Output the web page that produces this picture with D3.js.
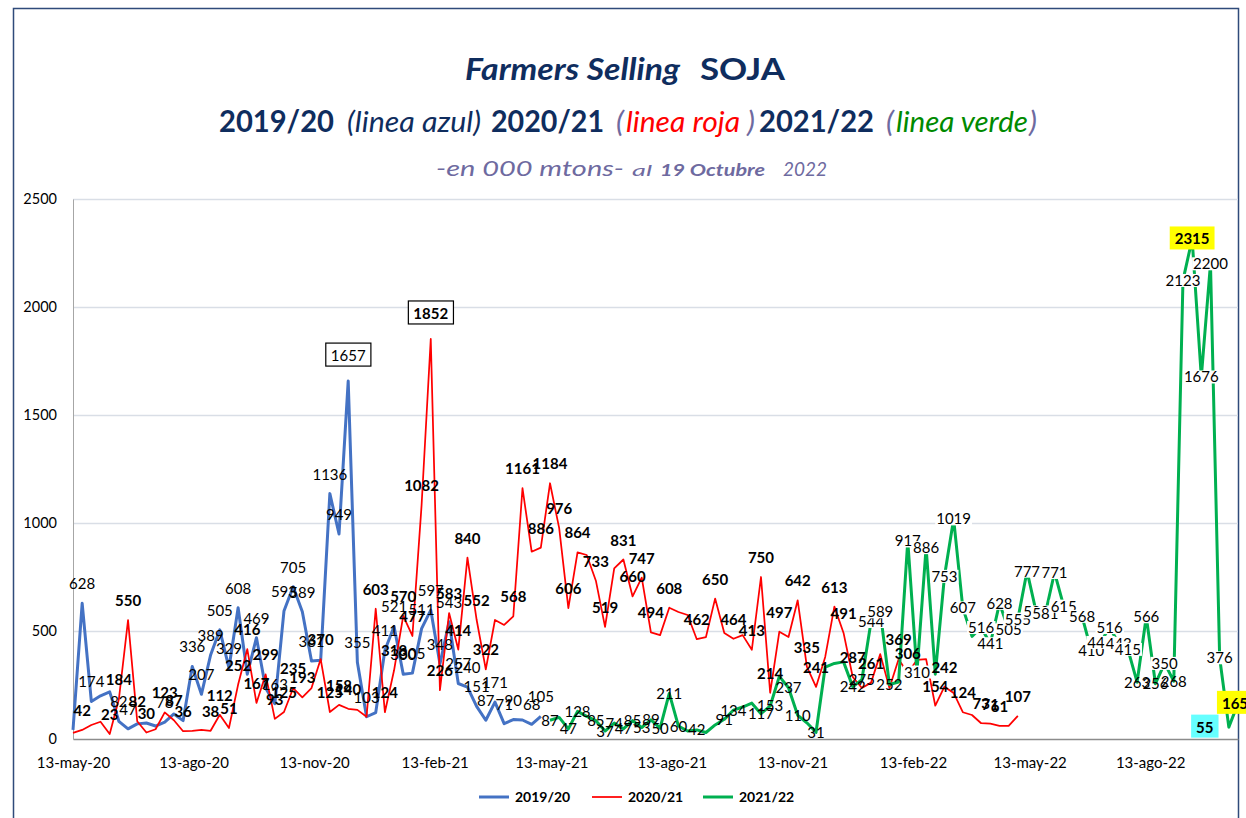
<!DOCTYPE html>
<html><head><meta charset="utf-8">
<script src="https://cdn.jsdelivr.net/npm/d3@7"></script>
<style>body{margin:0;background:#fff}svg{display:block}</style>
</head><body><svg id="c" width="1246" height="818"></svg>
<script>
// ---------- DATA ----------
const startDate = "2020-05-13";
const endDate = "2022-10-19";
const blueStartWeek = 0, redStartWeek = 0, greenStartWeek = 52;
const blueValues = [42,628,174,200,218,82,47,70,74,60,78,116,85,336,207,389,505,329,608,300,469,236,163,593,705,589,361,365,1136,949,1657,355,103,122,411,521,300,305,511,597,348,543,257,240,151,87,171,71,90,88,68,105];
const redValues = [28,42,65,80,23,184,550,82,30,45,123,87,36,38,42,38,112,51,252,416,167,299,93,125,235,193,236,370,125,158,140,135,103,603,124,318,570,477,1082,1852,226,583,414,840,552,322,551,528,568,1161,867,886,1184,976,606,864,852,733,519,790,831,660,747,494,481,608,588,574,462,472,650,491,464,481,413,750,214,497,472,642,335,241,380,613,491,287,236,261,393,236,369,306,366,370,154,242,213,124,111,73,71,61,61,107];
const greenValues = [87,100,47,128,105,85,37,74,47,85,53,89,50,211,60,37,42,30,65,91,134,148,166,117,153,290,237,110,75,31,333,350,357,242,275,544,589,252,264,917,310,886,300,753,1019,607,475,516,441,628,505,555,777,588,581,771,615,597,568,410,447,516,443,415,263,566,256,350,268,2123,2315,1676,2200,376,55,165];
const blueNoLabel = [0,3,4,7,8,9,11,12,19,21,27,33,49];
const redNoLabel = [0,2,3,9,13,14,26,31,32,46,47,50,56,59,64,66,67,69,71,73,78,82,86,88,89,92,93,96,98,102];
const greenNoLabel = [53,56,67,69,70,73,74,77,80,82,83,84,90,94,98,109];
const seriesNames = ["2019/20","2020/21","2021/22"];
const tickDates = ["2020-05-13","2020-08-13","2020-11-13","2021-02-13","2021-05-13","2021-08-13","2021-11-13","2022-02-13","2022-05-13","2022-08-13"];
const tickLabels = ["13-may-20","13-ago-20","13-nov-20","13-feb-21","13-may-21","13-ago-21","13-nov-21","13-feb-22","13-may-22","13-ago-22"];
const yTicks = [0,500,1000,1500,2000,2500];

// ---------- SETUP ----------
const svg = d3.select("#c");
const FONT = "Lato, 'Open Sans', sans-serif";
const parse = d3.timeParse("%Y-%m-%d");
const x = d3.scaleTime().domain([parse(startDate), parse(endDate)]).range([73, 1238]);
const y = d3.scaleLinear().domain([0, 2500]).range([739, 199]);
const weekDate = k => d3.timeDay.offset(parse(startDate), 7 * k);

svg.append("rect").attr("width",1246).attr("height",818).attr("fill","#fff");
svg.append("path").attr("d","M13.5,830 V8.5 H1238.5 V830").attr("fill","none").attr("stroke","#2F4A7A").attr("stroke-width",1.5);

// gridlines
svg.append("g").selectAll("line").data(yTicks.filter(d=>d>0)).join("line")
  .attr("x1",73).attr("x2",1238).attr("y1",d=>Math.round(y(d))+0.5).attr("y2",d=>Math.round(y(d))+0.5)
  .attr("stroke","#D9DEE6").attr("stroke-width",1.5);

// axes
const yAxis = d3.axisLeft(y).tickValues(yTicks).tickSize(0).tickPadding(16).tickFormat(d3.format("d"));
const gy = svg.append("g").attr("transform","translate(73,0)").call(yAxis);
gy.select(".domain").attr("stroke","#A6A6A6");
gy.selectAll("text").attr("font-family",FONT).attr("font-size",14.5).attr("fill","#000");
const xAxis = d3.axisBottom(x).tickValues(tickDates.map(parse)).tickSize(0).tickPadding(18)
  .tickFormat((d,i)=>tickLabels[i]);
const gx = svg.append("g").attr("transform","translate(0,739)").call(xAxis);
gx.select(".domain").attr("stroke","#8C8C8C").attr("stroke-width",1.5);
gx.selectAll("text").attr("font-family",FONT).attr("font-size",15).attr("fill","#000");

// series
const mk = (vals, start) => vals.map((v,i)=>({k:start+i, v, d:weekDate(start+i)}));
const blue = mk(blueValues, blueStartWeek), red = mk(redValues, redStartWeek), green = mk(greenValues, greenStartWeek);
const line = d3.line().defined(p=>p.v!=null).x(p=>x(p.d)).y(p=>y(p.v));
svg.append("path").datum(blue).attr("d",line).attr("fill","none").attr("stroke","#4472C4").attr("stroke-width",3).attr("stroke-linejoin","round");
svg.append("path").datum(red).attr("d",line).attr("fill","none").attr("stroke","#FF0000").attr("stroke-width",1.75).attr("stroke-linejoin","round");
svg.append("path").datum(green).attr("d",line).attr("fill","none").attr("stroke","#00B050").attr("stroke-width",3).attr("stroke-linejoin","round");

// labels
const special = {
  "blue-30": {fill:"#fff", stroke:"#000", bold:false},
  "red-39": {fill:"#fff", stroke:"#000", bold:true},
  "green-122": {fill:"#FFFF00", stroke:null, bold:true},
  "green-126": {fill:"#66FFFF", stroke:null, bold:true, dx:-24},
  "green-127": {fill:"#FFFF00", stroke:null, bold:true, dx:-3}
};
const boxMin = 300;
const gl = svg.append("g");
function addLabels(data, name, noLabel, mode, bold) {
  data.forEach(p=>{
    if (noLabel.includes(p.k)) return;
    const sp = special[name+"-"+p.k];
    const cx = x(p.d) + (sp && sp.dx ? sp.dx : 0);
    const py = y(p.v);
    const base = mode === "above" ? py - 14 : py + 5.5;
    const g = gl.append("g");
    const t = g.append("text").attr("x",cx).attr("y", sp && mode==="above" ? base-6 : base)
      .attr("text-anchor","middle").attr("font-family",FONT).attr("font-size",15)
      .attr("font-weight", (sp ? sp.bold : bold) ? "bold" : "normal").attr("fill","#000").text(p.v);
    const bb = t.node().getBBox();
    if (sp) {
      g.insert("rect","text").attr("x",bb.x-5).attr("y",bb.y-3).attr("width",bb.width+10).attr("height",bb.height+5)
        .attr("fill", sp.fill).attr("stroke", sp.stroke ? sp.stroke : "none").attr("stroke-width",1.2);
    } else if (mode === "center" && p.v >= boxMin) {
      const b = +t.attr("y");
      g.insert("rect","text").attr("x",bb.x-1).attr("y",b-12).attr("width",bb.width+2).attr("height",13)
        .attr("fill","#fff");
    }
  });
}
addLabels(blue, "blue", blueNoLabel, "above", false);
addLabels(red, "red", redNoLabel, "above", true);
addLabels(green, "green", greenNoLabel, "center", false);

// titles
const NAVY = "#0F2D5E", PURP = "#6E6AA0";
const segs = [
  {t:"Farmers Selling", x0:465, x1:680, y:80, s:30, b:true, i:true, c:NAVY},
  {t:"SOJA", x0:700, x1:785, y:80, s:31, b:true, i:false, c:NAVY},
  {t:"2019/20", x0:219, x1:334, y:132, s:30, b:true, i:false, c:NAVY},
  {t:"(linea azul)", x0:347, x1:481, y:132, s:28, b:false, i:true, c:NAVY},
  {t:"2020/21", x0:491, x1:604, y:132, s:30, b:true, i:false, c:NAVY},
  {t:"(", x0:616, x1:624, y:132, s:28, b:false, i:true, c:PURP},
  {t:"linea roja", x0:626, x1:740, y:132, s:28, b:false, i:true, c:"#FF0000"},
  {t:")", x0:747, x1:755, y:132, s:28, b:false, i:true, c:PURP},
  {t:"2021/22", x0:759, x1:874, y:132, s:30, b:true, i:false, c:NAVY},
  {t:"(", x0:886, x1:894, y:132, s:28, b:false, i:true, c:PURP},
  {t:"linea verde", x0:896, x1:1028, y:132, s:28, b:false, i:true, c:"#008A00"},
  {t:")", x0:1029, x1:1037, y:132, s:28, b:false, i:true, c:PURP},
  {t:"-en 000 mtons-", x0:436, x1:624, y:176, s:21, b:false, i:true, c:PURP},
  {t:"al", x0:632, x1:652, y:176, s:16, b:false, i:true, c:PURP},
  {t:"19 Octubre", x0:660, x1:765, y:176, s:17, b:true, i:true, c:PURP},
  {t:"2022", x0:783, x1:827, y:176, s:19, b:false, i:true, c:PURP}
];
segs.forEach(s=>{
  svg.append("text").attr("x",s.x0).attr("y",s.y).attr("font-family",FONT).attr("font-size",s.s)
    .attr("font-weight",s.b?"bold":"normal").attr("font-style",s.i?"italic":"normal").attr("fill",s.c)
    .attr("textLength",s.x1-s.x0).attr("lengthAdjust","spacingAndGlyphs").text(s.t);
});

// legend
const legColors = ["#4472C4","#FF0000","#00B050"];
const legX = [479, 592, 703];
const legW = [3,1.75,3];
seriesNames.forEach((n,i)=>{
  svg.append("line").attr("x1",legX[i]).attr("x2",legX[i]+30).attr("y1",797).attr("y2",797).attr("stroke",legColors[i]).attr("stroke-width",legW[i]);
  svg.append("text").attr("x",legX[i]+36).attr("y",802).attr("font-family",FONT).attr("font-size",14).attr("font-weight","bold").attr("fill","#000").text(n);
});
</script></body></html>
